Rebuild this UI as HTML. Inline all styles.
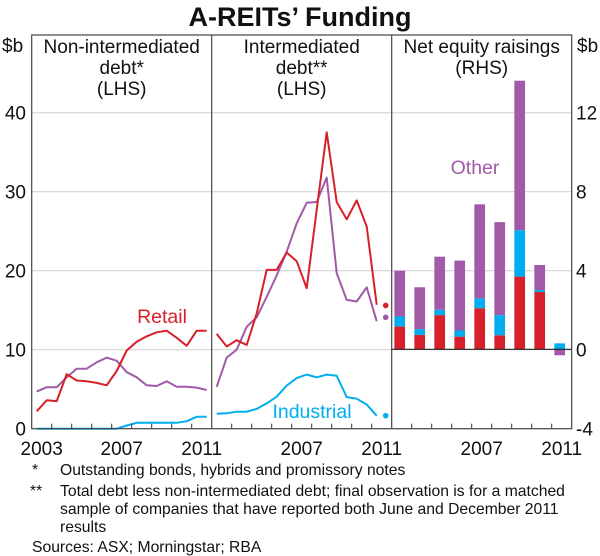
<!DOCTYPE html>
<html><head><meta charset="utf-8"><style>
html,body{margin:0;padding:0;background:#fff}
svg{display:block;font-family:"Liberation Sans",Arial,sans-serif}
</style></head><body>
<svg id="c" width="600" height="556" viewBox="0 0 600 556" xmlns="http://www.w3.org/2000/svg">
<text x="300" y="26" text-anchor="middle" font-size="27" font-weight="bold" fill="#111">A-REITs’ Funding</text>
<g id="grid"></g>
<g id="marks"></g>
<g id="frame"></g>
<g font-size="19" fill="#111" text-anchor="middle">
<text x="121.7" y="53">Non-intermediated</text>
<text x="121.7" y="74">debt*</text>
<text x="121.7" y="95">(LHS)</text>
<text x="301.7" y="53">Intermediated</text>
<text x="301.7" y="74">debt**</text>
<text x="301.7" y="95">(LHS)</text>
<text x="481.7" y="53">Net equity raisings</text>
<text x="481.7" y="74">(RHS)</text>
</g>
<text x="162" y="323" font-size="19.5" fill="#d7202a" text-anchor="middle">Retail</text>
<text x="312" y="418" font-size="19.5" fill="#00aeef" text-anchor="middle">Industrial</text>
<text x="475" y="174" font-size="19.5" fill="#a05aa8" text-anchor="middle">Other</text>
<g id="axes" font-size="19" fill="#111"></g>
<g font-size="15.7" fill="#111">
<text x="32" y="475">*</text>
<text x="60" y="475">Outstanding bonds, hybrids and promissory notes</text>
<text x="30" y="496">**</text>
<text x="60" y="496">Total debt less non-intermediated debt; final observation is for a matched</text>
<text x="60" y="514">sample of companies that have reported both June and December 2011</text>
<text x="60" y="532">results</text>
<text x="32" y="552">Sources: ASX; Morningstar; RBA</text>
</g>
</svg>
<script>
const leftTicks=[0,10,20,30,40];
const rightTicks=[12,8,4,0,-4];
const yearLabels=["2003","2007","2011"];
const nonRetail=[2.2,3.6,3.5,6.9,6.1,6.0,5.8,5.5,7.3,9.9,11.0,11.7,12.2,12.4,11.5,10.5,12.4,12.4];
const nonOther=[4.7,5.25,5.25,6.5,7.6,7.6,8.4,9.0,8.6,7.15,6.5,5.5,5.4,6.0,5.3,5.3,5.2,4.9];
const nonIndustrial=[0,0,0,0,0,0,0,0,0,0.4,0.75,0.75,0.75,0.75,0.75,0.95,1.5,1.5];
const intRetail=[12.0,10.4,11.2,10.6,14.6,20.1,20.1,22.3,21.2,17.8,27.7,37.5,28.7,26.5,28.9,25.6,15.7];
const intOther=[5.3,9.0,10.0,12.9,14.1,16.7,19.4,22.4,26.0,28.6,28.7,31.8,19.7,16.3,16.1,17.9,13.6];
const intIndustrial=[1.9,1.95,2.15,2.15,2.5,3.2,4.05,5.45,6.4,6.85,6.5,6.85,6.7,4.0,3.8,3.05,1.65];
const finalObs=[15.6,14.1,1.65];
const eqRetail=[1.15,0.73,1.73,0.64,2.08,0.71,3.68,2.9,0];
const eqIndustrial=[0.51,0.29,0.27,0.31,0.5,1.02,2.35,0.1,0.3];
const eqOther=[2.32,2.12,2.69,3.54,4.76,4.71,7.57,1.27,-0.3];

const NS="http://www.w3.org/2000/svg";
const L=31.7,PW=180,T=35,B=428.7;
const yL=v=>428.7-7.9*v;
const yR=v=>349.3-19.75*v;
const xHalf=(p,i)=>L+p*PW+5+10*i;
const xYear=(p,i)=>L+p*PW+10+20*i;
function mk(tag,attrs,parent){const e=document.createElementNS(NS,tag);for(const k in attrs)e.setAttribute(k,attrs[k]);parent.appendChild(e);return e;}
const grid=document.getElementById('grid'),marks=document.getElementById('marks'),frame=document.getElementById('frame'),axes=document.getElementById('axes');
leftTicks.forEach(v=>{if(v===0)return;
 const g=mk('line',{x1:L,x2:L+3*PW,y1:yL(v),y2:yL(v),stroke:'#d4d4d4','stroke-width':1.2},grid);
 
 });
leftTicks.forEach(v=>{const t=mk('text',{x:26,y:yL(v)+7,'text-anchor':'end'},axes);t.textContent=v;
 
 });
rightTicks.forEach(v=>{const t=mk('text',{x:576,y:yR(v)+7,'text-anchor':'start'},axes);t.textContent=v;
 
 });
const ub1=mk('text',{x:2,y:52},axes);ub1.textContent='$b';


const ub2=mk('text',{x:577,y:52},axes);ub2.textContent='$b';


for(let p=0;p<3;p++){
 yearLabels.forEach((lab,k)=>{const yi=[0,4,8][k];if(p>0&&k===0)return;
  const t=mk('text',{x:xYear(p,yi),y:455,'text-anchor':'middle'},axes);t.textContent=lab;
  
  });
 for(let i=1;i<9;i++){const x=L+p*PW+20*i;const tk=mk('line',{x1:x,x2:x,y1:B,y2:B-5,stroke:'#333','stroke-width':1},frame);
  
  }
}
const z=mk('line',{x1:L+2*PW,x2:L+3*PW,y1:yR(0),y2:yR(0),stroke:'#222','stroke-width':1.2},frame);


function line(arr,p,col,name){const pts=arr.map((v,i)=>xHalf(p,i).toFixed(1)+','+yL(v).toFixed(1)).join(' ');
 const e=mk('polyline',{points:pts,fill:'none',stroke:col,'stroke-width':2,'stroke-linejoin':'round'},marks);
 
 }
line(nonOther,0,'#a05aa8','non-intermediated-other-line');
line(nonIndustrial,0,'#00aeef','non-intermediated-industrial-line');
line(nonRetail,0,'#d7202a','non-intermediated-retail-line');
line(intOther,1,'#a05aa8','intermediated-other-line');
line(intIndustrial,1,'#00aeef','intermediated-industrial-line');
line(intRetail,1,'#d7202a','intermediated-retail-line');
['#d7202a','#a05aa8','#00aeef'].forEach((c,k)=>{const d=mk('circle',{cx:L+2*PW-6,cy:yL(finalObs[k]),r:2.8,fill:c},marks);
 
 });
eqRetail.forEach((r,i)=>{const cx=L+2*PW+8+20*i,w=10.7;
 const segs=[[r,'#d7202a','retail'],[eqIndustrial[i],'#00aeef','industrial'],[eqOther[i],'#a05aa8','other']];
 let pos=0,neg=0;
 segs.forEach(([v,c,n])=>{if(v===0)return;let a,b;
  if(v>0){a=pos;b=pos+v;pos=b;}else{a=neg;b=neg+v;neg=b;}
  const y1=Math.min(yR(a),yR(b)),h=Math.abs(yR(a)-yR(b));
  const e=mk('rect',{x:cx-w/2,y:y1,width:w,height:h,fill:c},marks);
  
  });
});
const fr=mk('rect',{x:L,y:T,width:3*PW,height:B-T,fill:'none',stroke:'#444','stroke-width':1.2},frame);


[1,2].forEach(p=>{const s=mk('line',{x1:L+p*PW,x2:L+p*PW,y1:T,y2:B,stroke:'#444','stroke-width':1.2},frame);
 
 });
</script>
</body></html>
